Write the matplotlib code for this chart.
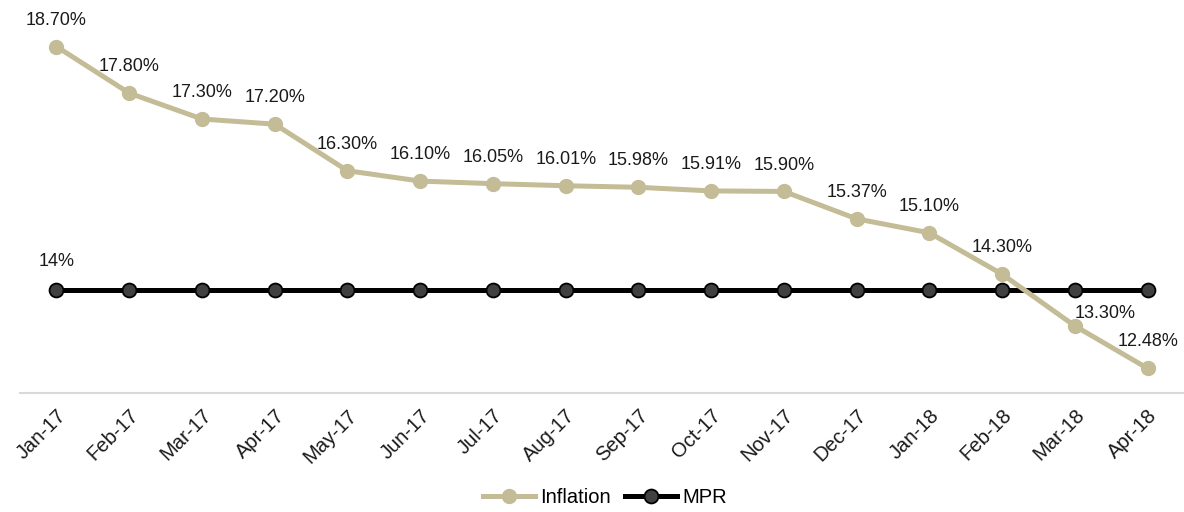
import matplotlib
matplotlib.use("Agg")
import matplotlib.pyplot as plt

plt.rcParams['font.family'] = ['Liberation Sans', 'DejaVu Sans']

MONTHS = ['Jan-17', 'Feb-17', 'Mar-17', 'Apr-17', 'May-17', 'Jun-17', 'Jul-17',
          'Aug-17', 'Sep-17', 'Oct-17', 'Nov-17', 'Dec-17', 'Jan-18', 'Feb-18',
          'Mar-18', 'Apr-18']
INFLATION = [18.70, 17.80, 17.30, 17.20, 16.30, 16.10, 16.05, 16.01, 15.98,
             15.91, 15.90, 15.37, 15.10, 14.30, 13.30, 12.48]
MPR = [14] * len(MONTHS)

INFLATION_COLOR = '#c4bc96'

fig = plt.figure(figsize=(11.84, 5.12), dpi=100)
ax = fig.add_axes([0.017, 0.232, 0.983, 0.768])

x = list(range(len(MONTHS)))

ax.plot(x, INFLATION, color=INFLATION_COLOR, linewidth=3.6, marker='o',
        markersize=10, markerfacecolor=INFLATION_COLOR,
        markeredgecolor=INFLATION_COLOR, label='Inflation', zorder=3)
ax.plot(x, MPR, color='black', linewidth=3.6, marker='o', markersize=10,
        markerfacecolor='#404040', markeredgecolor='black', markeredgewidth=1.3,
        label='MPR', zorder=2)

# data labels for inflation
for i, v in enumerate(INFLATION):
    if MONTHS[i] == 'Mar-18':
        offset = (22, 9)
    else:
        offset = (0, 19)
    ax.annotate(f'{v:.2f}%', (i, v), xytext=offset, textcoords='offset points',
                ha='center', va='center', fontsize=13, color='#1a1a1a')

# only the first MPR point carries a label
ax.annotate(f'{MPR[0]}%', (0, MPR[0]), xytext=(0, 20), textcoords='offset points',
            ha='center', va='center', fontsize=13, color='#1a1a1a')

ax.set_xlim(-0.5, len(MONTHS) - 0.5)
ax.set_ylim(12, 19.6)
ax.set_xticks(x)
ax.set_xticklabels(MONTHS, rotation=45, ha='right', rotation_mode='anchor',
                   fontsize=14.5, color='#1a1a1a')
ax.tick_params(axis='x', length=0, pad=9)
ax.set_yticks([])

for side in ['top', 'right', 'left']:
    ax.spines[side].set_visible(False)
ax.spines['bottom'].set_color('#d9d9d9')
ax.spines['bottom'].set_linewidth(1.5)

fig.legend(loc='lower center', bbox_to_anchor=(0.511, -0.025), ncol=2, frameon=False,
           fontsize=14.5, handlelength=2.6, columnspacing=0.7, handletextpad=0.25)

fig.savefig('out.png', dpi=100)
